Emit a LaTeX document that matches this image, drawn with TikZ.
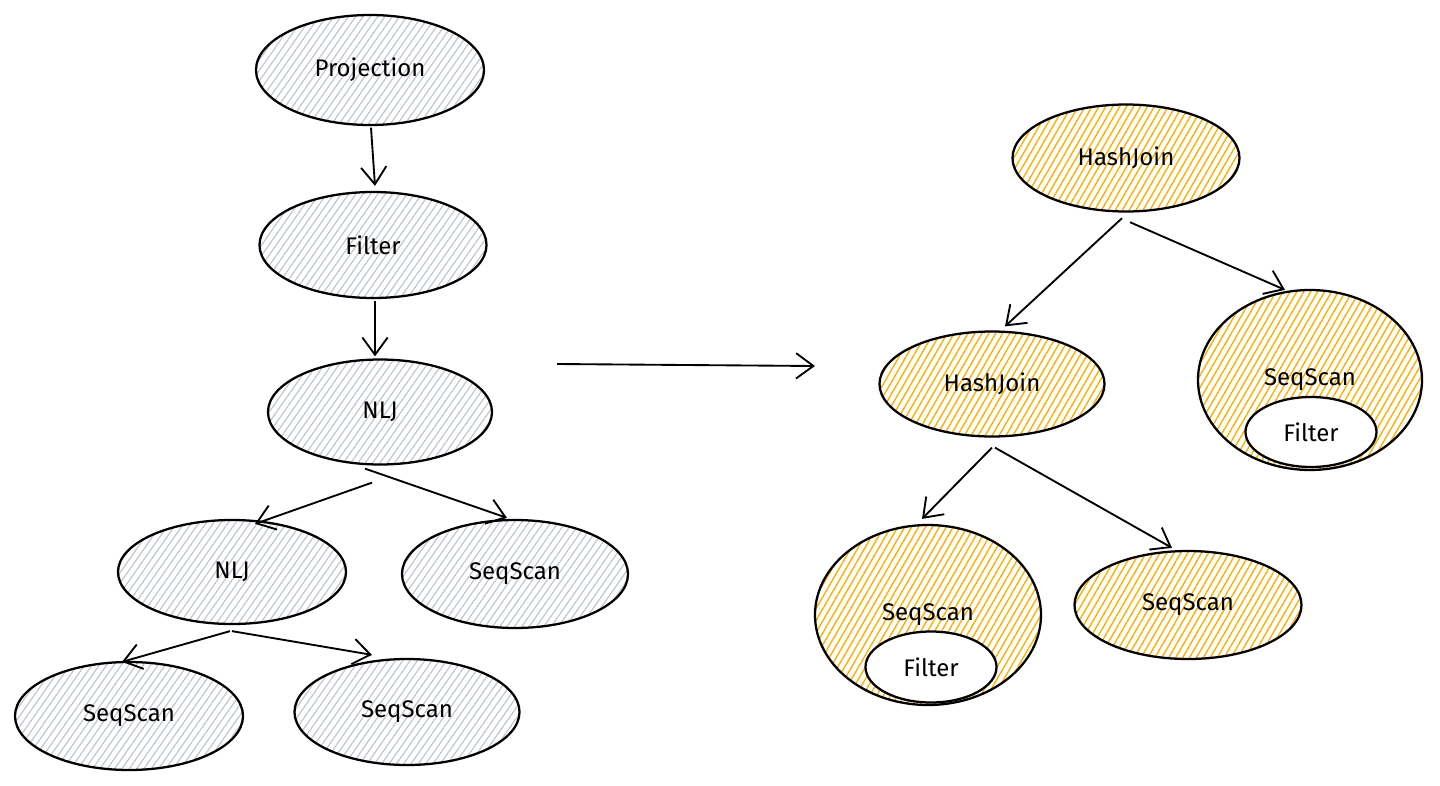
\documentclass[tikz,border=0pt]{standalone}
\usepackage{fontspec}
\setmainfont{Fira Sans}
\usetikzlibrary{shapes.geometric,arrows.meta,patterns.meta,calc}
\definecolor{hatchgray}{RGB}{192,198,205}
\definecolor{hatchorange}{RGB}{250,176,5}
\tikzset{
  ell/.style 2 args={ellipse, draw=black, line width=1.7pt, inner sep=0pt,
    minimum width=#1*0.75pt, minimum height=#2*0.75pt,
    font=\fontsize{18}{22}\selectfont},
  grayop/.style={pattern={Lines[angle=55,distance=4.5pt,line width=0.9pt]}, pattern color=hatchgray},
  orangeop/.style={pattern={Lines[angle=60,distance=4.5pt,line width=1.05pt]}, pattern color=hatchorange},
  innerop/.style={fill=white},
  conn/.style={line width=1.4pt, -{Straight Barb[length=13pt,width=19pt,line width=1.4pt]}},
}
\begin{document}
\begin{tikzpicture}[x=0.75pt,y=-0.75pt]
\useasboundingbox (0,0) rectangle (1440,786);
% left tree
\node[ell={228}{110}, grayop] (proj) at (370,70) {Projection};
\node[ell={227}{106}, grayop] (filt) at (373,245) {Filter};
\node[ell={224}{105}, grayop] (nlj1) at (380,412) {NLJ};
\node[ell={228}{104}, grayop] (nlj2) at (232,572) {NLJ};
\node[ell={226}{108}, grayop] (ssr) at (515,574) {SeqScan};
\node[ell={228}{108}, grayop] (ssbl) at (129,716) {SeqScan};
\node[ell={225}{106}, grayop] (ssbm) at (407,712) {SeqScan};
% right tree
\node[ell={227}{107}, orangeop] (hj1) at (1126,158) {HashJoin};
\node[ell={225}{105}, orangeop] (hj2) at (992,384) {HashJoin};
\node[ell={224}{180}, orangeop] (ssbig1) at (1310,380) {SeqScan};
\node[ell={131}{70}, innerop] (f1) at (1311,432) {Filter};
\node[ell={226}{180}, orangeop] (ssbig2) at (928,615) {SeqScan};
\node[ell={131}{71}, innerop] (f2) at (931,667) {Filter};
\node[ell={227}{108}, orangeop] (sslr) at (1188,605) {SeqScan};
% big arrow
\coordinate (bigA) at (557,364);
\coordinate (bigB) at (815,366);
\draw[conn] (bigA) -- (bigB);
% left connectors
\draw[conn] ($(proj.south)+(1,2)$) -- ($(filt.north)+(2,-5)$);
\draw[conn] ($(filt.south)+(2,2)$) -- ($(nlj1.north)+(-5,-2)$);
\draw[conn] ($(nlj1.south)+(-8,17)$) -- ($(nlj2.north)+(23,5)$);
\draw[conn] ($(nlj1.south)+(-15,3)$) -- ($(ssr.north)+(-8,-1)$);
\draw[conn] ($(nlj2.south)+(-2,6)$) -- ($(ssbl.north)+(-7,1)$);
\draw[conn] ($(nlj2.south)+(0,6)$) -- ($(ssbm.north)+(-35,-3)$);
% right connectors
\draw[conn] ($(hj1.south)+(-4,6)$) -- ($(hj2.north)+(13,-4)$);
\draw[conn] ($(hj1.south)+(4,10)$) -- ($(ssbig1.north)+(-25,1)$);
\draw[conn] ($(hj2.south)+(0,10)$) -- ($(ssbig2.north)+(-6,-5)$);
\draw[conn] ($(hj2.south)+(3,10)$) -- ($(sslr.north)+(-16,-2)$);
\end{tikzpicture}
\end{document}
